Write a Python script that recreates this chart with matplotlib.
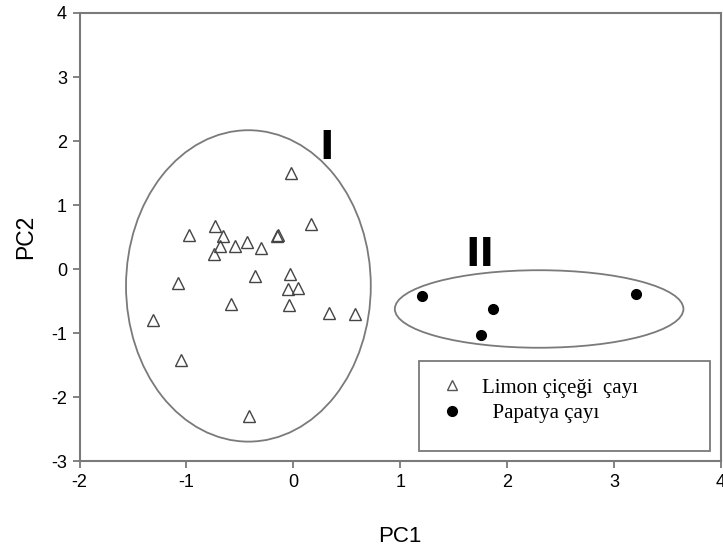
import matplotlib.pyplot as plt
from matplotlib.patches import Ellipse, Rectangle
from matplotlib.lines import Line2D

# PC scores
limon_pc1 = [-0.02, 0.17, -0.15, -0.14, -0.73, -0.98, -0.66, -0.69, -0.74, -0.55, -0.43,
             -0.30, -0.36, -0.03, -0.05, 0.04, -0.04, -1.08, -0.58, -1.31, 0.33, 0.58,
             -1.05, -0.41]
limon_pc2 = [1.50, 0.71, 0.52, 0.54, 0.67, 0.53, 0.52, 0.36, 0.24, 0.37, 0.42,
             0.33, -0.10, -0.07, -0.31, -0.30, -0.55, -0.21, -0.54, -0.79, -0.68, -0.70,
             -1.41, -2.29]
papatya_pc1 = [1.20, 1.87, 1.76, 3.21]
papatya_pc2 = [-0.41, -0.62, -1.02, -0.39]

# group ellipses: (center x, center y, width, height)
group_labels = ['I', 'II']
group_label_pos = [(0.31, 1.89), (1.75, 0.22)]
group_ellipses = [(-0.42, -0.26, 2.29, 4.86), (2.30, -0.62, 2.70, 1.21)]

xticks = [-2, -1, 0, 1, 2, 3, 4]
yticks = [-3, -2, -1, 0, 1, 2, 3, 4]

grey = '#7a7a7a'
plt.rcParams['font.family'] = ['Liberation Sans', 'DejaVu Sans']
plt.rcParams['axes.unicode_minus'] = False

fig = plt.figure(figsize=(7.23, 5.54), dpi=100)
ax = fig.add_axes([0.110, 0.167, 0.887, 0.8096])

ax.plot(limon_pc1, limon_pc2, linestyle='none', marker='^', markersize=8.5,
        markerfacecolor='none', markeredgecolor='#444444', markeredgewidth=1.0)
ax.plot(papatya_pc1, papatya_pc2, linestyle='none', marker='o', markersize=7,
        color='black')

for (cx, cy, w, h) in group_ellipses:
    ax.add_patch(Ellipse((cx, cy), w, h, facecolor='none', edgecolor=grey, linewidth=1.3))

for lab, (lx, ly) in zip(group_labels, group_label_pos):
    ax.text(lx, ly, lab, fontsize=28, fontweight='bold', ha='center', va='center',
            family='DejaVu Sans')

# legend box
ax.add_patch(Rectangle((0.529, 0.023), 0.454, 0.201, transform=ax.transAxes,
                       facecolor='white', edgecolor=grey, linewidth=1.3, zorder=3))
handles = [
    Line2D([], [], linestyle='none', marker='^', markersize=7, markerfacecolor='none',
           markeredgecolor='#555555', markeredgewidth=1.0),
    Line2D([], [], linestyle='none', marker='o', markersize=7, color='black'),
]
leg = ax.legend(handles, ['Limon çiçeği  çayı', '  Papatya çayı'], loc='upper left',
                bbox_to_anchor=(0.536, 0.228), frameon=False, handlelength=1.0,
                handletextpad=0.94, labelspacing=0.3,
                prop={'family': 'Liberation Serif', 'size': 15})
leg.set_zorder(4)

ax.set_xlim(-2, 4)
ax.set_ylim(-3, 4)
ax.set_xticks(xticks)
ax.set_yticks(yticks)
ax.tick_params(labelsize=13, length=5, width=1.3, color=grey, pad=4)
for s in ax.spines.values():
    s.set_color(grey)
    s.set_linewidth(1.5)

ax.set_xlabel('PC1', fontsize=16, labelpad=25)
ax.set_ylabel('PC2', fontsize=16.5, labelpad=10)

plt.savefig('out.png')
plt.close()
